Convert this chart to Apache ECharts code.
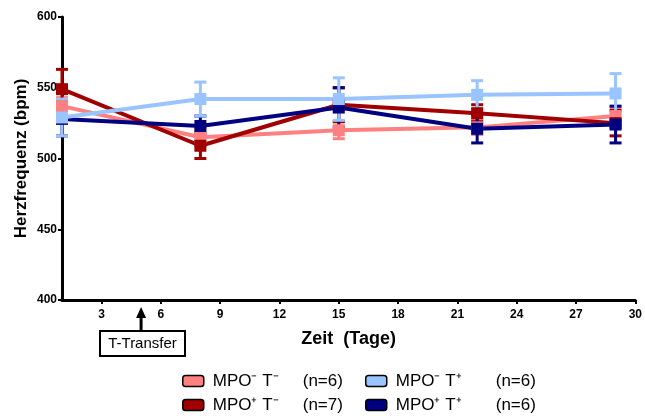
<!DOCTYPE html>
<html><head><meta charset="utf-8">
<script src="https://cdn.jsdelivr.net/npm/echarts@6/dist/echarts.min.js"></script>
<style>html,body{margin:0;padding:0;background:#fff}#c{width:645px;height:419px}</style>
</head><body><div id="c"></div>
<script>
const days = [1, 8, 15, 22, 29];
const xTicks = [3, 6, 9, 12, 15, 18, 21, 24, 27, 30];
const yTicks = [400, 450, 500, 550, 600];
const names = ['MPO⁻ T⁻', 'MPO⁻ T⁺', 'MPO⁺ T⁻', 'MPO⁺ T⁺'];
const counts = ['(n=6)', '(n=6)', '(n=7)', '(n=6)'];
const colors = ['#FF8080', '#99C4FF', '#A00000', '#000080'];
const meanPinkMinus = [537, 515, 520, 522, 530];
const semPinkMinus = [6, 6, 6, 5, 6];
const meanLightPlus = [529, 542, 542, 545, 546];
const semLightPlus = [13, 12, 15, 10, 14];
const meanRedMinus = [549, 509, 538, 532, 525];
const semRedMinus = [14, 9, 12, 6, 9];
const meanBluePlus = [528, 523, 536, 521, 524];
const semBluePlus = [12, 7, 14, 10, 13];

const groups = [
  {mean: meanPinkMinus, sem: semPinkMinus, c: 0},
  {mean: meanRedMinus, sem: semRedMinus, c: 2},
  {mean: meanBluePlus, sem: semBluePlus, c: 3},
  {mean: meanLightPlus, sem: semLightPlus, c: 1}
];
const FONT = 'Liberation Sans, Arial, sans-serif';

const chart = echarts.init(document.getElementById('c'));
const series = [];
groups.forEach(g => {
  const col = colors[g.c];
  series.push({
    type: 'custom', name: names[g.c] + '_err', silent: true,
    data: days.map((d, i) => [d, g.mean[i] - g.sem[i], g.mean[i] + g.sem[i]]),
    renderItem: (params, api) => {
      const lo = api.coord([api.value(0), api.value(1)]);
      const hi = api.coord([api.value(0), api.value(2)]);
      const w = 6;
      const st = {stroke: col, lineWidth: 3};
      return {type: 'group', children: [
        {type: 'line', shape: {x1: lo[0], y1: lo[1], x2: hi[0], y2: hi[1]}, style: st},
        {type: 'line', shape: {x1: lo[0] - w, y1: lo[1], x2: lo[0] + w, y2: lo[1]}, style: st},
        {type: 'line', shape: {x1: hi[0] - w, y1: hi[1], x2: hi[0] + w, y2: hi[1]}, style: st}
      ]};
    },
    z: 2
  });
  series.push({
    type: 'line', name: names[g.c],
    data: days.map((d, i) => [d, g.mean[i]]),
    symbol: 'rect', symbolSize: 12,
    lineStyle: {color: col, width: 4},
    itemStyle: {color: col},
    z: 3
  });
});

function mkLegend(idx, left, nameW) {
  return {
    data: idx.map(i => ({name: names[i], itemStyle: {color: colors[i], borderColor: '#000', borderWidth: 1.5}})),
    left: left, top: 371, width: 200, height: 120, orient: 'vertical', itemGap: 4,
    padding: 0,
    itemWidth: 21, itemHeight: 11, icon: 'roundRect',
    formatter: n => '{a|' + n + '}{b|' + counts[names.indexOf(n)] + '}',
    textStyle: {
      fontFamily: FONT, fontSize: 17, color: '#000', lineHeight: 20,
      rich: {
        a: {fontFamily: FONT, fontSize: 17, color: '#000', width: nameW, padding: [0, 0, 0, 4]},
        b: {fontFamily: FONT, fontSize: 17, color: '#000'}
      }
    }
  };
}

chart.setOption({
  animation: false,
  color: colors,
  grid: {left: 62, right: 4, top: 17, bottom: 119, containLabel: false},
  legend: [mkLegend([0, 2], 182, 90), mkLegend([1, 3], 365, 100)],
  xAxis: {
    type: 'value', min: 1, max: 30,
    name: 'Zeit  (Tage)', nameLocation: 'middle', nameGap: 30,
    nameTextStyle: {fontFamily: FONT, fontSize: 18, fontWeight: 'bold', color: '#000'},
    axisLine: {show: true, lineStyle: {color: '#000', width: 3}},
    axisTick: {show: true, length: 4, lineStyle: {color: '#000', width: 2}, customValues: xTicks},
    axisLabel: {customValues: xTicks, fontFamily: FONT, fontSize: 12, fontWeight: 'bold', color: '#000', margin: 9},
    splitLine: {show: false}
  },
  yAxis: {
    type: 'value', min: 400, max: 600, interval: 50,
    name: 'Herzfrequenz (bpm)', nameLocation: 'middle', nameGap: 32, nameMoveOverlap: false,
    nameTextStyle: {fontFamily: FONT, fontSize: 17, fontWeight: 'bold', color: '#000'},
    axisLine: {show: true, lineStyle: {color: '#000', width: 3}},
    axisTick: {show: true, length: 4, lineStyle: {color: '#000', width: 2}},
    axisLabel: {fontFamily: FONT, fontSize: 12, fontWeight: 'bold', color: '#000', margin: 5},
    splitLine: {show: false}
  },
  series: series
});

const ax = chart.convertToPixel({gridIndex: 0}, [5, 400]);
chart.setOption({
  graphic: [
    {type: 'line', shape: {x1: ax[0], y1: 331, x2: ax[0], y2: 316}, style: {stroke: '#000', lineWidth: 3}},
    {type: 'polygon', shape: {points: [[ax[0] - 5, 318], [ax[0] + 5, 318], [ax[0], 307]]}, style: {fill: '#000'}},
    {type: 'rect', shape: {x: 100, y: 331, width: 85, height: 25}, style: {fill: '#fff', stroke: '#000', lineWidth: 2}},
    {type: 'text', x: 142.5, y: 344, style: {text: 'T-Transfer', fontFamily: FONT, fontSize: 15, fill: '#000', align: 'center', verticalAlign: 'middle'}}
  ]
});
</script></body></html>
